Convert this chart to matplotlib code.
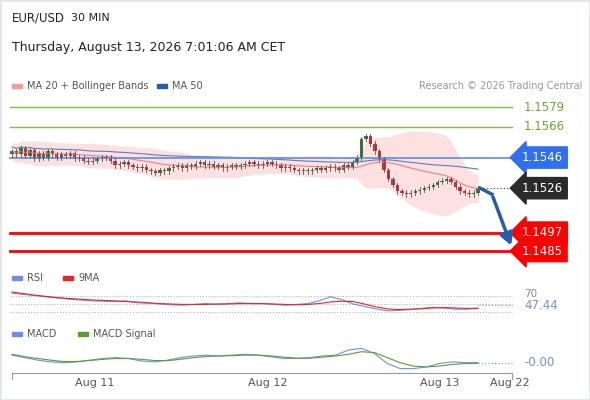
import numpy as np
import pandas as pd
import matplotlib
matplotlib.use("Agg")
from matplotlib import pyplot as plt

# candle closes (EUR/USD, 30 min)
closes = [1.1550, 1.1548, 1.1552, 1.1547, 1.1551, 1.1545, 1.1549, 1.1546, 1.1550, 1.1548, 1.1546,
          1.1548, 1.1547, 1.1549, 1.1545, 1.1546, 1.1544, 1.1543, 1.1544, 1.1545, 1.1546,
          1.1546, 1.1544, 1.1541, 1.1542, 1.1543, 1.1541, 1.1540, 1.1539, 1.1540, 1.1538,
          1.1537, 1.1536, 1.1538, 1.1537, 1.1539, 1.1540, 1.1541, 1.1539, 1.1541, 1.1540,
          1.1542, 1.1543, 1.1541, 1.1542, 1.1540, 1.1541, 1.1539, 1.1540, 1.1541, 1.1540,
          1.1541, 1.1542, 1.1543, 1.1542, 1.1541, 1.1542, 1.1543, 1.1542, 1.1541, 1.1539,
          1.1540, 1.1539, 1.1538, 1.1537, 1.1538, 1.1537, 1.1538, 1.1539, 1.1538, 1.1539,
          1.1540, 1.1539, 1.1538, 1.1541, 1.1540, 1.1543, 1.1546, 1.1558, 1.1560, 1.1555, 1.1550,
          1.1545, 1.1538, 1.1532, 1.1528, 1.1524, 1.1523, 1.1522, 1.1523, 1.1524, 1.1525, 1.1526,
          1.1527, 1.1528, 1.1530, 1.1531, 1.1532, 1.1530, 1.1527, 1.1524, 1.1523, 1.1522, 1.1523, 1.1526]
first_open = 1.1548
wick = 0.00015

levels_green = [1.1579, 1.1566]
level_blue = 1.1546
levels_red = [1.1497, 1.1485]
last_price = 1.1526

rsi = [77, 74, 71, 68, 65, 62, 60, 58, 57, 56, 58, 53, 52, 50, 48, 47, 49, 51, 49, 51, 53, 51,
       51, 49, 47, 49, 51, 58, 68, 61, 50, 44, 38, 33, 34, 36, 39, 42, 40, 37, 37, 40]
rsi_ma = [80, 76, 72, 69, 66, 64, 62, 60, 59, 58, 56, 55, 53, 51, 50, 49, 49, 49, 50, 50, 51, 51,
          51, 50, 49, 48, 49, 51, 55, 57, 56, 50, 43, 38, 36, 37, 38, 40, 41, 40, 39, 39]
rsi_last = 47.44

macd = [0.0, -1.5, -3.0, -4.0, -4.5, -4.0, -3.0, -2.0, -1.5, -2.0, -3.5, -4.0, -3.0, -1.5, -0.5,
        0.0, -0.5, 0.0, 0.5, 0.0, -1.0, -2.0, -2.0, -1.5, -0.5, 0.0, 3.0, 4.0, 1.0, -5.0, -8.0,
        -8.0, -7.0, -5.0, -4.0, -4.5, -4.5]
macd_sig = [0.5, -1.0, -2.0, -3.0, -3.8, -3.8, -3.2, -2.5, -2.0, -2.0, -2.5, -3.2, -3.3, -2.5, -1.5,
            -0.8, -0.5, -0.3, 0.0, 0.0, -0.5, -1.2, -1.8, -1.8, -1.2, -0.5, 0.5, 2.0, 1.5, -1.5, -4.5,
            -6.5, -7.0, -6.5, -5.5, -5.0, -4.8]

date_ticks = ["Aug 11", "Aug 12", "Aug 13", "Aug 22"]
date_px = [95, 268, 440, 510]

n = len(closes)
x0, x1 = 12, 478
s = (x1 - x0) / (n - 1)
idx = np.arange(n)

def px2i(p):
    return (p - x0) / s

W, H = 590, 400
fig = plt.figure(figsize=(5.9, 4.0), dpi=100)
xl = (px2i(0), px2i(W))

def make_ax(top, bottom):
    a = fig.add_axes([0, (H - bottom) / H, 1, (bottom - top) / H])
    a.set_xlim(*xl)
    a.axis("off")
    return a

# price axes: 1.1579 at y107, 1.1485 at y251
k = (251 - 107) / (1.1579 - 1.1485)
ax = make_ax(95, 262)
ax.set_ylim(1.1485 - 11 / k, 1.1579 + 12 / k)

c = pd.Series(closes)
ma20 = c.rolling(20, min_periods=1).mean()
sd = c.rolling(20, min_periods=2).std().bfill()
ma50 = c.rolling(50, min_periods=1).mean()
ax.fill_between(idx, ma20 - 1.8 * sd - 0.00035, ma20 + 1.8 * sd + 0.00035, color="#fde0e0", lw=0)
ax.plot(idx, ma20, color="#f08080", lw=0.8)
ax.plot(idx, ma50 + 0.0003, color="#5b7fbf", lw=0.8)

for lv in levels_green:
    ax.plot([px2i(10), px2i(512)], [lv, lv], color="#7cc242", lw=1.0)
    ax.text(px2i(524), lv, f"{lv:.4f}", color="#6aa82a", fontsize=8.5, va="center")
ax.plot([px2i(10), px2i(512)], [level_blue] * 2, color="#5b8def", lw=1.2)
for lv in levels_red:
    ax.plot([px2i(10), px2i(512)], [lv, lv], color="#ff0000", lw=2)
ax.plot([px2i(480), px2i(512)], [last_price] * 2, color="#333333", lw=0.8, ls=(0, (1, 2)))

def tag(y, text, col):
    ax.text(px2i(522), y, text, color="white", fontsize=8.5, va="center",
            bbox=dict(boxstyle="larrow,pad=0.35", fc=col, ec=col))
tag(level_blue, f"{level_blue:.4f}", "#2f6ff0")
tag(last_price, f"{last_price:.4f}", "#2b2b2b")
for lv in levels_red:
    tag(lv, f"{lv:.4f}", "#ff0000")

opens = [first_open] + closes[:-1]
for i in range(n):
    o, cl = opens[i], closes[i]
    col = "#2e7d32" if cl >= o else "#d32f2f"
    ax.plot([i, i], [min(o, cl) - wick, max(o, cl) + wick], color="#555555", lw=0.6)
    ax.bar(i, max(abs(cl - o), 0.00004), bottom=min(o, cl), width=0.75, color=col, lw=0)

# forecast arrow
ax.plot([n - 0.5, px2i(492)], [last_price, 1.1522], color="#2a5caa", lw=2.5)
ax.annotate("", xy=(px2i(512), 1.1487), xytext=(px2i(492), 1.1522),
            arrowprops=dict(arrowstyle="-|>,head_width=0.4,head_length=0.7", color="#2a5caa", lw=2.5))

# RSI: 70 at y296, 30 at y312
ax2 = make_ax(288, 318)
ax2.set_ylim(30 - 6 * 2.5, 70 + 8 * 2.5)
for lv in [70, 50, 30]:
    ax2.plot([px2i(10), px2i(512)], [lv, lv], color="#aaaaaa", lw=0.7, ls=(0, (1, 2)))
rx = np.linspace(0, n - 1, len(rsi))
ax2.plot(rx, rsi, color="#6f8fe6", lw=0.8)
ax2.plot(rx, rsi_ma, color="#ee2222", lw=0.8)
ax2.plot([n - 1, px2i(512)], [rsi_last, rsi_last], color="#6f8fe6", lw=0.8, ls=(0, (1, 2)))
ax2.text(px2i(524), 74, "70", color="#888888", fontsize=7.5, va="center")
ax2.text(px2i(524), rsi_last - 2, f"{rsi_last:.2f}", color="#6f8fe6", fontsize=8.5, va="center")

# MACD
ax3 = make_ax(345, 372)
ax3.set_ylim(-10, 6)
mx = np.linspace(0, n - 1, len(macd))
ax3.plot(mx, macd, color="#6f8fe6", lw=0.8)
ax3.plot(mx, macd_sig, color="#5aa02c", lw=0.8)
ax3.plot([n - 1, px2i(512)], [macd[-1], macd[-1]], color="#6f8fe6", lw=0.8, ls=(0, (1, 2)))
ax3.text(px2i(524), macd[-1], "-0.00", color="#6f8fe6", fontsize=8.5, va="center")

# x axis
axx = make_ax(368, 380)
axx.set_ylim(0, 1)
axx.plot([px2i(12), px2i(512)], [0.6, 0.6], color="#999999", lw=0.8)
for p in [12, 512]:
    axx.plot([px2i(p), px2i(p)], [0.6, 0.05], color="#999999", lw=0.8)
for lab, p in zip(date_ticks, date_px):
    fig.text(p / W, 1 - 383 / H, lab, fontsize=8, color="#555555", ha="center", va="center")

# header and legends
fig.text(12 / W, 1 - 18 / H, "EUR/USD", fontsize=8.5, color="#222222", va="center")
fig.text(71 / W, 1 - 18 / H, "30 MIN", fontsize=8, color="#222222", va="center")
fig.text(12 / W, 1 - 48 / H, "Thursday, August 13, 2026 7:01:06 AM CET", fontsize=9, color="#222222", va="center")

def legend_item(px, py, col, label):
    fig.patches.append(plt.Rectangle((px / W, 1 - (py + 2) / H), 10 / W, 4 / H,
                                     transform=fig.transFigure, color=col))
    fig.text((px + 15) / W, 1 - py / H, label, fontsize=7, color="#555555", va="center")

legend_item(12, 86, "#f59a9a", "MA 20 + Bollinger Bands")
legend_item(157, 86, "#2a5caa", "MA 50")
fig.text(582 / W, 1 - 86 / H, "Research © 2026 Trading Central", fontsize=7, color="#999999",
         ha="right", va="center")
legend_item(12, 278, "#6f8fe6", "RSI")
legend_item(63, 278, "#ee2222", "9MA")
legend_item(12, 334, "#6f8fe6", "MACD")
legend_item(78, 334, "#5aa02c", "MACD Signal")

fig.patches.append(plt.Rectangle((0, 0), 1, 1, transform=fig.transFigure, fill=False,
                                 ec="#e0e6ea", lw=2))
fig.savefig("out.png", dpi=100)
